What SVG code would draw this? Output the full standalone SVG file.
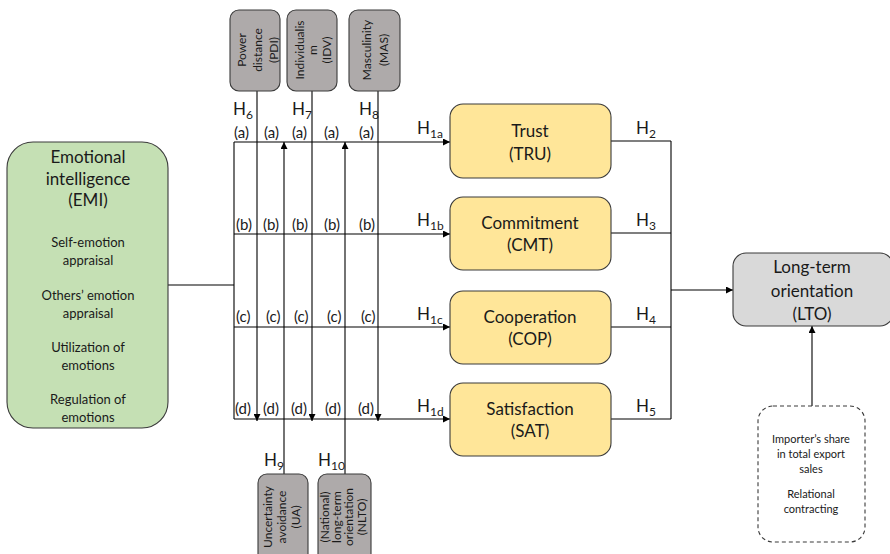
<svg xmlns="http://www.w3.org/2000/svg" width="890" height="554" viewBox="0 0 890 554">
<style>
text{font-family:Lato,"Open Sans","Liberation Sans",sans-serif;fill:#1a1a1a}
.node{stroke:#3a3a3a;stroke-width:1.1}
.y{fill:#ffe699}
.g{fill:#aeaaaa}
.big{font-size:17px;text-anchor:middle}
.sm{font-size:13px;text-anchor:middle}
.rot{font-size:12px;text-anchor:middle}
.h{font-size:17px}
.sub{font-size:12px}
.lab{font-size:15px}
.ctl{font-size:11px;text-anchor:middle}
.ln{stroke:#000;stroke-width:1.1;fill:none}
</style>
<defs>
<marker id="arr" viewBox="0 0 8 8" refX="8" refY="4" markerWidth="7" markerHeight="7" markerUnits="userSpaceOnUse" orient="auto">
<path d="M0,0 L8,4 L0,8 z" fill="#000"/>
</marker>
</defs>

<g id="connectors">
<line class="ln" x1="168" y1="285" x2="234" y2="285"/>
<line class="ln" x1="234" y1="142" x2="234" y2="419"/>
<line class="ln" x1="234" y1="142" x2="450" y2="142" marker-end="url(#arr)"/>
<line class="ln" x1="234" y1="234" x2="450" y2="234" marker-end="url(#arr)"/>
<line class="ln" x1="234" y1="327" x2="450" y2="327" marker-end="url(#arr)"/>
<line class="ln" x1="234" y1="419" x2="450" y2="419" marker-end="url(#arr)"/>
<line class="ln" x1="257" y1="91" x2="257" y2="421" marker-end="url(#arr)"/>
<line class="ln" x1="312" y1="91" x2="312" y2="421" marker-end="url(#arr)"/>
<line class="ln" x1="378" y1="91" x2="378" y2="421" marker-end="url(#arr)"/>
<line class="ln" x1="284" y1="475" x2="284" y2="142" marker-end="url(#arr)"/>
<line class="ln" x1="345" y1="475" x2="345" y2="142" marker-end="url(#arr)"/>
<line class="ln" x1="611" y1="141" x2="671" y2="141"/>
<line class="ln" x1="611" y1="233" x2="671" y2="233"/>
<line class="ln" x1="611" y1="327" x2="671" y2="327"/>
<line class="ln" x1="611" y1="419" x2="671" y2="419"/>
<line class="ln" x1="671" y1="141" x2="671" y2="419"/>
<line class="ln" x1="671" y1="290" x2="733" y2="290" marker-end="url(#arr)"/>
<line class="ln" x1="812" y1="406" x2="812" y2="326" marker-end="url(#arr)"/>
</g>

<g id="labels">
<text class="h" x="233" y="115">H<tspan class="sub" dy="4">6</tspan></text>
<text class="h" x="292" y="115">H<tspan class="sub" dy="4">7</tspan></text>
<text class="h" x="359" y="115">H<tspan class="sub" dy="4">8</tspan></text>
<text class="h" x="264" y="466">H<tspan class="sub" dy="4">9</tspan></text>
<text class="h" x="318" y="466">H<tspan class="sub" dy="4">10</tspan></text>
<text class="h" x="417" y="134">H<tspan class="sub" dy="4">1a</tspan></text>
<text class="h" x="417" y="226">H<tspan class="sub" dy="4">1b</tspan></text>
<text class="h" x="417" y="320">H<tspan class="sub" dy="4">1c</tspan></text>
<text class="h" x="417" y="412">H<tspan class="sub" dy="4">1d</tspan></text>
<text class="h" x="636" y="134">H<tspan class="sub" dy="4">2</tspan></text>
<text class="h" x="636" y="226">H<tspan class="sub" dy="4">3</tspan></text>
<text class="h" x="636" y="320">H<tspan class="sub" dy="4">4</tspan></text>
<text class="h" x="636" y="412">H<tspan class="sub" dy="4">5</tspan></text>
<text class="lab" x="234" y="138">(a)</text><text class="lab" x="264" y="138">(a)</text><text class="lab" x="292" y="138">(a)</text><text class="lab" x="324" y="138">(a)</text><text class="lab" x="359" y="138">(a)</text>
<text class="lab" x="236" y="230">(b)</text><text class="lab" x="263" y="230">(b)</text><text class="lab" x="292" y="230">(b)</text><text class="lab" x="324" y="230">(b)</text><text class="lab" x="359" y="230">(b)</text>
<text class="lab" x="236" y="322">(c)</text><text class="lab" x="266" y="322">(c)</text><text class="lab" x="294" y="322">(c)</text><text class="lab" x="327" y="322">(c)</text><text class="lab" x="361" y="322">(c)</text>
<text class="lab" x="235" y="414">(d)</text><text class="lab" x="263" y="414">(d)</text><text class="lab" x="291" y="414">(d)</text><text class="lab" x="325" y="414">(d)</text><text class="lab" x="358" y="414">(d)</text>
</g>

<g id="EMI">
<rect class="node" x="7" y="142" width="161" height="286" rx="26" fill="#c5e0b4"/>
<text class="big" x="88" y="163">Emotional</text>
<text class="big" x="88" y="185">intelligence</text>
<text class="big" x="88" y="206">(EMI)</text>
<text class="sm" x="88" y="247">Self-emotion</text>
<text class="sm" x="88" y="265">appraisal</text>
<text class="sm" x="88" y="300">Others’ emotion</text>
<text class="sm" x="88" y="318">appraisal</text>
<text class="sm" x="88" y="352">Utilization of</text>
<text class="sm" x="88" y="370">emotions</text>
<text class="sm" x="88" y="404">Regulation of</text>
<text class="sm" x="88" y="422">emotions</text>
</g>

<g id="PDI">
<rect class="node g" x="230" y="10" width="50" height="81" rx="9"/>
<g transform="translate(255,50) rotate(-90)">
<text class="rot" x="0" y="-9">Power</text>
<text class="rot" x="0" y="7">distance</text>
<text class="rot" x="0" y="23">(PDI)</text>
</g>
</g>
<g id="IDV">
<rect class="node g" x="287" y="10" width="50" height="81" rx="9"/>
<g transform="translate(312,50) rotate(-90)">
<text class="rot" x="0" y="-8">Individualis</text>
<text class="rot" x="0" y="5">m</text>
<text class="rot" x="0" y="19">(IDV)</text>
</g>
</g>
<g id="MAS">
<rect class="node g" x="349" y="10" width="51" height="81" rx="9"/>
<g transform="translate(374.5,50) rotate(-90)">
<text class="rot" x="0" y="-4">Masculinity</text>
<text class="rot" x="0" y="13">(MAS)</text>
</g>
</g>

<g id="UA">
<rect class="node g" x="258" y="474" width="50" height="90" rx="9"/>
<g transform="translate(283,517) rotate(-90)">
<text class="rot" x="0" y="-11">Uncertainty</text>
<text class="rot" x="0" y="3">avoidance</text>
<text class="rot" x="0" y="17">(UA)</text>
</g>
</g>
<g id="NLTO">
<rect class="node g" x="318" y="474" width="53" height="90" rx="9"/>
<g transform="translate(344.5,517) rotate(-90)">
<text class="rot" x="0" y="-16">(National)</text>
<text class="rot" x="0" y="-4">long-term</text>
<text class="rot" x="0" y="8">orientation</text>
<text class="rot" x="0" y="21">(NLTO)</text>
</g>
</g>

<g id="TRU">
<rect class="node y" x="450" y="104" width="161" height="74" rx="13"/>
<text class="big" x="530" y="137">Trust</text>
<text class="big" x="530" y="160">(TRU)</text>
</g>
<g id="CMT">
<rect class="node y" x="450" y="197" width="161" height="73" rx="13"/>
<text class="big" x="530" y="229">Commitment</text>
<text class="big" x="530" y="251">(CMT)</text>
</g>
<g id="COP">
<rect class="node y" x="450" y="291" width="161" height="73" rx="13"/>
<text class="big" x="530" y="323">Cooperation</text>
<text class="big" x="530" y="345">(COP)</text>
</g>
<g id="SAT">
<rect class="node y" x="450" y="383" width="161" height="73" rx="13"/>
<text class="big" x="530" y="415">Satisfaction</text>
<text class="big" x="530" y="437">(SAT)</text>
</g>

<g id="LTO">
<rect class="node" x="733" y="253" width="160" height="73" rx="13" fill="#d9d9d9"/>
<text class="big" x="812" y="273">Long-term</text>
<text class="big" x="812" y="297">orientation</text>
<text class="big" x="812" y="320">(LTO)</text>
</g>

<g id="controls">
<rect x="758" y="406" width="107" height="136" rx="15" fill="#fff" stroke="#3a3a3a" stroke-width="1.1" stroke-dasharray="4,3"/>
<text class="ctl" x="811" y="443">Importer’s share</text>
<text class="ctl" x="811" y="458">in total export</text>
<text class="ctl" x="811" y="473">sales</text>
<text class="ctl" x="811" y="498">Relational</text>
<text class="ctl" x="811" y="513">contracting</text>
</g>
</svg>
